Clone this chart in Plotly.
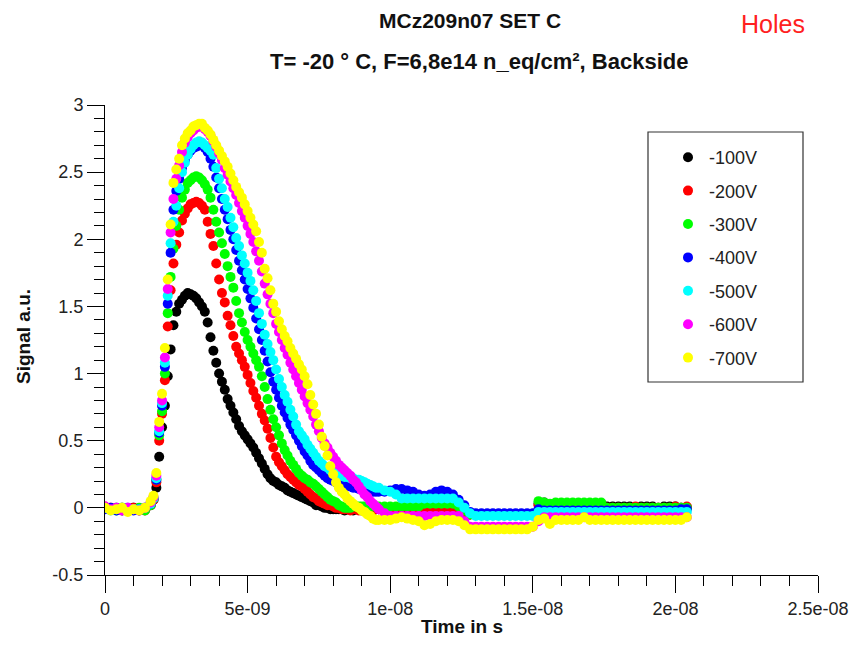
import plotly.graph_objects as go

# ---------------- data ----------------
# time base in ns: 0.2 ns steps on the flat baseline/tail, 0.1 ns steps on the pulse
TIME_NS = [0.0, 0.2, 0.4, 0.6, 0.8, 1.0, 1.2, 1.4, 1.6,
           1.7, 1.8, 1.9, 2.0, 2.1, 2.2, 2.3, 2.4, 2.5, 2.6,
           2.7, 2.8, 2.9, 3.0, 3.1, 3.2, 3.3, 3.4, 3.5, 3.6,
           3.7, 3.8, 3.9, 4.0, 4.1, 4.2, 4.3, 4.4, 4.5, 4.6,
           4.7, 4.8, 4.9, 5.0, 5.1, 5.2, 5.3, 5.4, 5.5, 5.6,
           5.7, 5.8, 5.9, 6.0, 6.1, 6.2, 6.3, 6.4, 6.5, 6.6,
           6.7, 6.8, 6.9, 7.0, 7.1, 7.2, 7.3, 7.4, 7.5, 7.6,
           7.7, 7.8, 7.9, 8.0, 8.1, 8.2, 8.3, 8.4, 8.5, 8.6,
           8.7, 8.8, 8.9, 9.0, 9.1, 9.2, 9.3, 9.4, 9.5, 9.6,
           9.8, 10.0, 10.2, 10.4, 10.6, 10.8, 11.0, 11.2, 11.4, 11.6,
           11.8, 12.0, 12.2, 12.4, 12.6, 12.8, 13.0, 13.2, 13.4, 13.6,
           13.8, 14.0, 14.2, 14.4, 14.6, 14.8, 15.0, 15.2, 15.4, 15.6,
           15.8, 16.0, 16.2, 16.4, 16.6, 16.8, 17.0, 17.2, 17.4, 17.6,
           17.8, 18.0, 18.2, 18.4, 18.6, 18.8, 19.0, 19.2, 19.4, 19.6,
           19.8, 20.0, 20.2, 20.4]

V100 = [0.0, -0.01, 0.0, -0.02, -0.01, 0.0, -0.02, -0.01, 0.02,
        0.06, 0.15, 0.38, 0.60, 0.76, 0.98, 1.18, 1.36, 1.46, 1.52,
        1.55, 1.58, 1.60, 1.59, 1.58, 1.56, 1.53, 1.50, 1.46, 1.38,
        1.27, 1.17, 1.08, 1.00, 0.94, 0.88, 0.81, 0.76, 0.71, 0.66,
        0.61, 0.57, 0.54, 0.51, 0.48, 0.45, 0.41, 0.37, 0.33, 0.29,
        0.25, 0.22, 0.20, 0.19, 0.17, 0.16, 0.15, 0.13, 0.12, 0.11,
        0.10, 0.09, 0.08, 0.07, 0.06, 0.05, 0.04, 0.02, 0.02, 0.01,
        0.0, 0.0, -0.01, -0.01, -0.01, -0.01, -0.01, -0.02, -0.01, -0.01,
        -0.02, -0.01, -0.01, -0.02, -0.01, -0.01, -0.01, -0.02, -0.01, -0.01,
        -0.01, -0.02, -0.01, -0.01, -0.02, -0.01, -0.01, -0.01, -0.02, -0.01,
        -0.01, -0.01, -0.02, -0.01, -0.03, -0.05, -0.05, -0.05, -0.05, -0.05,
        -0.05, -0.05, -0.05, -0.05, -0.05, -0.05, -0.05, 0.03, 0.04, 0.01,
        0.0, 0.0, 0.01, 0.0, 0.0, 0.01, 0.0, 0.0, 0.0, 0.01,
        0.01, 0.01, 0.01, 0.01, 0.0, 0.01, 0.01, 0.01, 0.0, 0.01,
        0.01, 0.01, 0.0, 0.0]

V200 = [0.01, 0.0, -0.01, 0.0, -0.02, 0.0, -0.01, -0.02, 0.02,
        0.06, 0.19, 0.50, 0.70, 0.95, 1.35, 1.62, 1.82, 1.96, 2.05,
        2.14, 2.19, 2.23, 2.26, 2.27, 2.28, 2.27, 2.25, 2.22, 2.13,
        2.04, 1.95, 1.82, 1.70, 1.60, 1.53, 1.43, 1.36, 1.28, 1.20,
        1.15, 1.10, 1.05, 0.99, 0.93, 0.87, 0.82, 0.76, 0.70, 0.65,
        0.59, 0.52, 0.45, 0.38, 0.34, 0.31, 0.28, 0.25, 0.23, 0.21,
        0.19, 0.17, 0.16, 0.14, 0.12, 0.10, 0.08, 0.07, 0.05, 0.04,
        0.03, 0.02, 0.02, 0.01, 0.0, 0.0, -0.01, -0.01, -0.01, -0.02,
        -0.01, -0.01, -0.02, -0.01, -0.01, -0.01, -0.02, -0.01, -0.01, -0.01,
        -0.01, -0.01, -0.02, -0.01, -0.01, -0.02, -0.01, -0.01, -0.01, -0.02,
        -0.01, -0.01, -0.02, -0.01, -0.03, -0.05, -0.05, -0.05, -0.05, -0.05,
        -0.05, -0.05, -0.05, -0.05, -0.05, -0.05, -0.05, 0.02, 0.02, 0.0,
        0.0, 0.0, 0.0, 0.01, 0.0, 0.0, 0.0, 0.0, 0.01, 0.0,
        0.0, 0.0, 0.0, 0.0, 0.01, 0.0, 0.0, 0.0, 0.0, 0.0,
        0.0, 0.01, 0.0, 0.01]

V300 = [0.0, -0.01, -0.02, 0.0, -0.01, -0.01, 0.0, -0.02, 0.02,
        0.07, 0.21, 0.54, 0.72, 1.00, 1.45, 1.72, 1.93, 2.10, 2.22,
        2.31, 2.37, 2.42, 2.44, 2.46, 2.47, 2.46, 2.44, 2.41, 2.37,
        2.31, 2.22, 2.13, 2.05, 1.97, 1.89, 1.80, 1.72, 1.64, 1.54,
        1.45, 1.38, 1.31, 1.25, 1.20, 1.15, 1.10, 1.05, 0.98, 0.90,
        0.81, 0.73, 0.66, 0.60, 0.54, 0.48, 0.43, 0.39, 0.35, 0.32,
        0.29, 0.26, 0.24, 0.22, 0.21, 0.19, 0.18, 0.16, 0.14, 0.12,
        0.10, 0.08, 0.06, 0.05, 0.04, 0.02, 0.01, 0.0, 0.0, 0.0,
        0.01, 0.01, 0.01, 0.01, 0.01, 0.01, 0.01, 0.01, 0.01, 0.01,
        0.01, 0.01, 0.01, 0.01, 0.01, 0.01, 0.01, 0.03, 0.03, 0.03,
        0.03, 0.03, 0.03, 0.01, -0.02, -0.05, -0.05, -0.05, -0.05, -0.05,
        -0.05, -0.05, -0.05, -0.05, -0.05, -0.05, -0.05, 0.05, 0.04, 0.03,
        0.04, 0.04, 0.04, 0.04, 0.04, 0.04, 0.04, 0.04, 0.04, 0.0,
        0.0, 0.0, 0.0, 0.0, 0.0, 0.0, 0.0, 0.0, 0.0, 0.0,
        0.0, 0.0, 0.0, 0.0]

V400 = [-0.01, 0.0, -0.02, -0.01, 0.0, -0.02, -0.01, 0.0, 0.03,
        0.07, 0.21, 0.56, 0.76, 1.05, 1.52, 1.90, 2.22, 2.36, 2.45,
        2.53, 2.59, 2.63, 2.66, 2.68, 2.69, 2.70, 2.70, 2.68, 2.65,
        2.60, 2.54, 2.46, 2.38, 2.30, 2.22, 2.15, 2.07, 2.00, 1.92,
        1.84, 1.77, 1.70, 1.63, 1.56, 1.49, 1.41, 1.33, 1.25, 1.17,
        1.09, 1.01, 0.94, 0.88, 0.82, 0.76, 0.71, 0.67, 0.62, 0.58,
        0.54, 0.50, 0.46, 0.42, 0.39, 0.35, 0.32, 0.30, 0.28, 0.26,
        0.24, 0.22, 0.21, 0.20, 0.19, 0.18, 0.18, 0.17, 0.16, 0.16,
        0.15, 0.15, 0.14, 0.14, 0.13, 0.13, 0.12, 0.12, 0.12, 0.12,
        0.12, 0.13, 0.14, 0.14, 0.13, 0.12, 0.10, 0.09, 0.10, 0.12,
        0.13, 0.12, 0.10, 0.06, 0.02, -0.03, -0.04, -0.04, -0.04, -0.04,
        -0.04, -0.04, -0.04, -0.04, -0.04, -0.04, -0.04, -0.01, -0.02, -0.02,
        -0.02, -0.02, -0.02, -0.02, -0.02, -0.02, -0.02, -0.02, -0.02, -0.02,
        -0.02, -0.02, -0.02, -0.02, -0.02, -0.02, -0.02, -0.02, -0.02, -0.02,
        -0.02, -0.02, -0.01, -0.01]

V500 = [0.0, -0.02, -0.01, 0.0, -0.02, -0.01, -0.01, 0.0, 0.03,
        0.07, 0.22, 0.57, 0.78, 1.08, 1.58, 1.97, 2.13, 2.25, 2.38,
        2.50, 2.57, 2.63, 2.67, 2.70, 2.72, 2.73, 2.72, 2.70, 2.68,
        2.66, 2.63, 2.53, 2.45, 2.38, 2.30, 2.24, 2.16, 2.09, 2.01,
        1.95, 1.88, 1.82, 1.75, 1.69, 1.62, 1.54, 1.45, 1.37, 1.29,
        1.22, 1.16, 1.10, 1.03, 0.96, 0.90, 0.84, 0.79, 0.73, 0.68,
        0.62, 0.57, 0.54, 0.51, 0.47, 0.44, 0.41, 0.38, 0.35, 0.33,
        0.31, 0.30, 0.28, 0.27, 0.26, 0.25, 0.24, 0.23, 0.23, 0.22,
        0.22, 0.21, 0.21, 0.20, 0.19, 0.18, 0.17, 0.16, 0.15, 0.15,
        0.13, 0.12, 0.10, 0.07, 0.07, 0.07, 0.07, 0.07, 0.07, 0.07,
        0.07, 0.07, 0.07, 0.04, 0.0, -0.04, -0.06, -0.06, -0.06, -0.06,
        -0.06, -0.06, -0.06, -0.06, -0.06, -0.06, -0.06, -0.03, -0.03, -0.03,
        -0.03, -0.03, -0.03, -0.03, -0.03, -0.03, -0.03, -0.03, -0.03, -0.03,
        -0.03, -0.03, -0.03, -0.03, -0.03, -0.03, -0.03, -0.03, -0.03, -0.03,
        -0.03, -0.03, -0.03, -0.03]

V600 = [0.01, -0.01, 0.0, -0.02, 0.0, -0.01, -0.02, 0.0, 0.04,
        0.08, 0.24, 0.60, 0.80, 1.12, 1.63, 2.05, 2.30, 2.45, 2.55,
        2.65, 2.72, 2.76, 2.79, 2.81, 2.83, 2.84, 2.84, 2.82, 2.80,
        2.77, 2.73, 2.69, 2.64, 2.59, 2.53, 2.48, 2.43, 2.38, 2.33,
        2.27, 2.21, 2.16, 2.10, 2.04, 1.98, 1.91, 1.84, 1.76, 1.67,
        1.59, 1.52, 1.45, 1.37, 1.31, 1.25, 1.19, 1.14, 1.08, 1.03,
        0.98, 0.93, 0.88, 0.83, 0.78, 0.73, 0.68, 0.62, 0.57, 0.52,
        0.48, 0.45, 0.41, 0.38, 0.35, 0.32, 0.30, 0.28, 0.26, 0.24,
        0.21, 0.19, 0.16, 0.13, 0.10, 0.08, 0.05, 0.03, 0.01, -0.01,
        -0.04, -0.06, -0.06, -0.06, -0.06, -0.06, -0.06, -0.06, -0.06, -0.06,
        -0.06, -0.06, -0.06, -0.06, -0.10, -0.14, -0.14, -0.14, -0.14, -0.14,
        -0.14, -0.14, -0.14, -0.14, -0.14, -0.14, -0.14, -0.10, -0.07, -0.07,
        -0.07, -0.07, -0.07, -0.07, -0.07, -0.07, -0.07, -0.07, -0.07, -0.07,
        -0.07, -0.07, -0.07, -0.07, -0.07, -0.07, -0.07, -0.07, -0.07, -0.07,
        -0.07, -0.07, -0.07, -0.07]

V700 = [0.0, -0.02, -0.01, 0.0, -0.03, -0.01, -0.02, 0.0, 0.05,
        0.09, 0.26, 0.64, 0.85, 1.19, 1.70, 2.11, 2.42, 2.52, 2.60,
        2.70, 2.75, 2.79, 2.81, 2.84, 2.85, 2.86, 2.86, 2.83, 2.81,
        2.78, 2.74, 2.70, 2.66, 2.62, 2.58, 2.54, 2.49, 2.44, 2.39,
        2.35, 2.31, 2.26, 2.21, 2.16, 2.11, 2.06, 1.98, 1.90, 1.78,
        1.71, 1.62, 1.52, 1.46, 1.39, 1.33, 1.28, 1.24, 1.19, 1.15,
        1.11, 1.07, 1.03, 0.98, 0.92, 0.84, 0.77, 0.70, 0.62, 0.53,
        0.46, 0.39, 0.31, 0.25, 0.19, 0.15, 0.12, 0.10, 0.07, 0.05,
        0.03, 0.01, 0.0, -0.02, -0.03, -0.05, -0.06, -0.08, -0.09, -0.09,
        -0.09, -0.09, -0.08, -0.07, -0.08, -0.09, -0.10, -0.13, -0.12, -0.10,
        -0.09, -0.09, -0.09, -0.10, -0.13, -0.16, -0.16, -0.16, -0.16, -0.16,
        -0.16, -0.16, -0.16, -0.16, -0.16, -0.16, -0.14, -0.09, -0.08, -0.12,
        -0.09, -0.09, -0.09, -0.09, -0.09, -0.07, -0.09, -0.09, -0.09, -0.09,
        -0.09, -0.09, -0.09, -0.09, -0.09, -0.09, -0.09, -0.09, -0.09, -0.09,
        -0.09, -0.09, -0.09, -0.07]

SERIES_NAMES = ["-100V", "-200V", "-300V", "-400V", "-500V", "-600V", "-700V"]
SERIES_VALUES = [V100, V200, V300, V400, V500, V600, V700]
SERIES_COLORS = ["#000000", "#ff0000", "#00ff00", "#0000ff", "#00ffff", "#ff00ff", "#ffff00"]

X_TICK_VALS = [0, 5e-9, 1e-8, 1.5e-8, 2e-8, 2.5e-8]
X_TICK_TEXT = ["0", "5e-09", "1e-08", "1.5e-08", "2e-08", "2.5e-08"]
Y_TICK_VALS = [-0.5, 0, 0.5, 1, 1.5, 2, 2.5, 3]
Y_TICK_TEXT = ["-0.5", "0", "0.5", "1", "1.5", "2", "2.5", "3"]

# ---------------- figure ----------------
# The page body has an 8 px margin, so the figure is 16 px smaller than the window
# and all window-pixel positions below are converted with that offset.
W, H = 852, 630
OFF = 8
L, R, T, B = 97, 42, 97, 63
PW, PH = W - L - R, H - T - B


def px(xw):
    """window x pixel -> paper x"""
    return (xw - OFF - L) / PW


def py(yw):
    """window y pixel -> paper y"""
    return (H - B - (yw - OFF)) / PH


FONT = "Liberation Sans, Arial, Helvetica, sans-serif"
time_s = [t * 1e-9 for t in TIME_NS]

fig = go.Figure()
for name, vals, col in zip(SERIES_NAMES, SERIES_VALUES, SERIES_COLORS):
    fig.add_trace(go.Scatter(
        x=time_s, y=vals, mode="markers", name=name, legendgroup=name,
        marker=dict(color=col, size=10, line=dict(width=0)),
    ))

axis_common = dict(
    showline=True, linecolor="#000000", linewidth=1, mirror=False,
    ticks="outside", ticklen=17, tickwidth=1, tickcolor="#000000",
    showgrid=False, zeroline=False,
    tickfont=dict(family=FONT, size=18, color="#222222"),
)

fig.update_layout(
    width=W, height=H,
    margin=dict(l=L, r=R, t=T, b=B, autoexpand=False),
    paper_bgcolor="#ffffff", plot_bgcolor="#ffffff",
    showlegend=True,
    legend=dict(
        x=px(667), y=py(139), xanchor="left", yanchor="top",
        bgcolor="rgba(0,0,0,0)", borderwidth=0,
        font=dict(family=FONT, size=18, color="#222222"),
        itemwidth=32, tracegroupgap=7,
    ),
    xaxis=dict(
        range=[0, 2.5e-8], tickmode="array", tickvals=X_TICK_VALS, ticktext=X_TICK_TEXT,
        minor=dict(tickmode="linear", tick0=0, dtick=1e-9, ticks="outside", ticklen=10,
                   tickcolor="#000000", tickwidth=1, showgrid=False),
        **axis_common,
    ),
    yaxis=dict(
        range=[-0.5, 3], tickmode="array", tickvals=Y_TICK_VALS, ticktext=Y_TICK_TEXT,
        minor=dict(tickmode="linear", tick0=0, dtick=0.1, ticks="outside", ticklen=10,
                   tickcolor="#000000", tickwidth=1, showgrid=False),
        **axis_common,
    ),
    shapes=[
        dict(type="rect", xref="paper", yref="paper",
             x0=px(648), x1=px(803), y0=py(382), y1=py(132),
             line=dict(color="#333333", width=1.2), fillcolor="rgba(0,0,0,0)"),
    ],
    annotations=[
        dict(text="<b>MCz209n07 SET C</b>", xref="paper", yref="paper",
             x=px(470), y=py(21), xanchor="center", yanchor="middle", showarrow=False,
             font=dict(family=FONT, size=21, color="#111111")),
        dict(text="<b>T= -20 ° C, F=6,8e14 n_eq/cm², Backside</b>", xref="paper", yref="paper",
             x=px(479), y=py(62), xanchor="center", yanchor="middle", showarrow=False,
             font=dict(family=FONT, size=22, color="#111111")),
        dict(text="Holes", xref="paper", yref="paper",
             x=px(773), y=py(24), xanchor="center", yanchor="middle", showarrow=False,
             font=dict(family=FONT, size=25, color="#ff2020")),
        dict(text="<b>Time in s</b>", xref="paper", yref="paper",
             x=px(462), y=py(626), xanchor="center", yanchor="middle", showarrow=False,
             font=dict(family=FONT, size=19, color="#111111")),
        dict(text="<b>Signal a.u.</b>", xref="paper", yref="paper", textangle=-90,
             x=px(23), y=py(337), xanchor="center", yanchor="middle", showarrow=False,
             font=dict(family=FONT, size=19, color="#111111")),
    ],
)

fig.write_html("out.html")
